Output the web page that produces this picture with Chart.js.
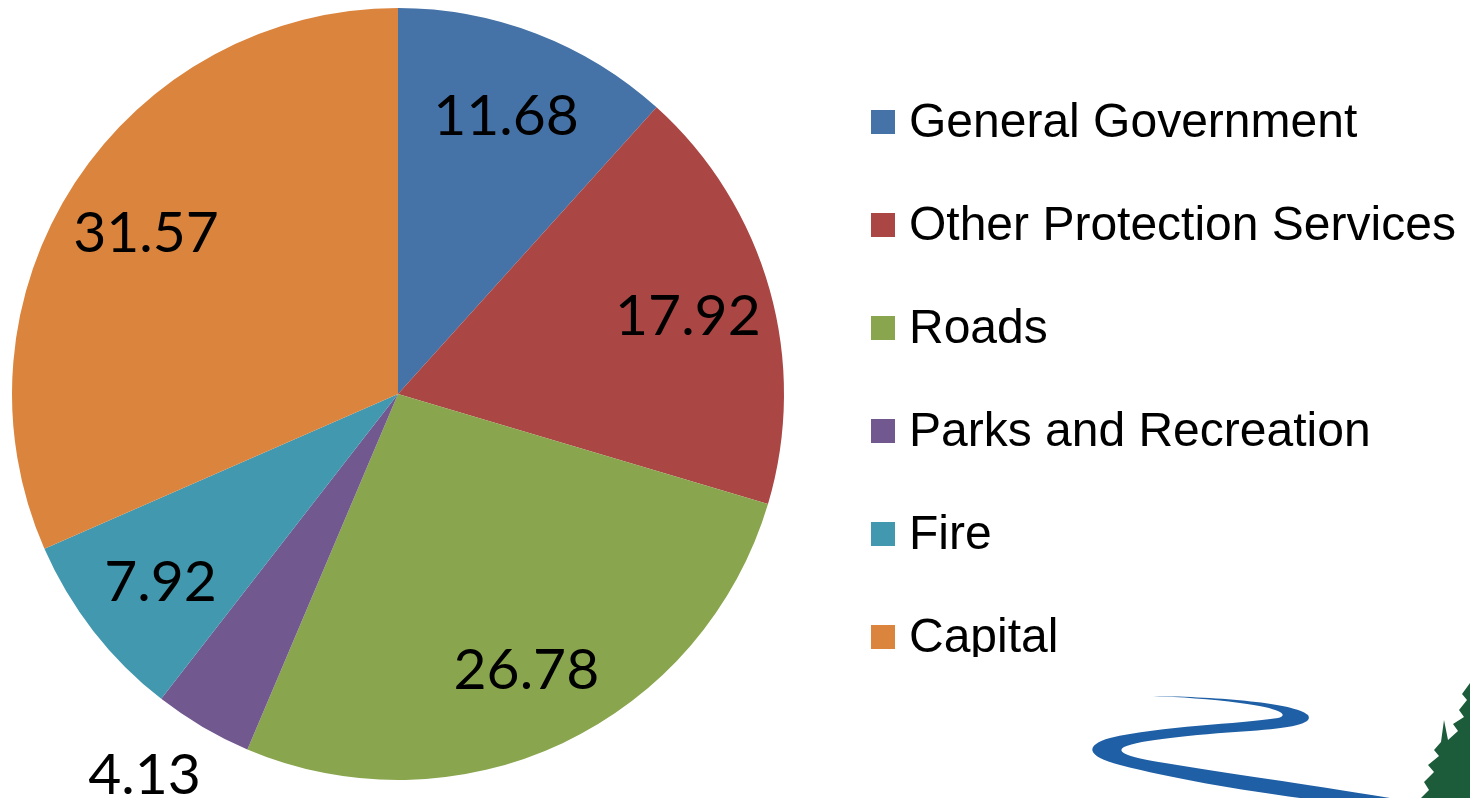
<!DOCTYPE html>
<html>
<head>
<meta charset="utf-8">
<script src="https://cdn.jsdelivr.net/npm/chart.js@4"></script>
<style>
  html, body { margin: 0; padding: 0; background: #fff; }
  canvas { display: block; }
</style>
</head>
<body>
<canvas id="chart" width="1470" height="798"></canvas>
<script>
const categories = ["General Government", "Other Protection Services", "Roads", "Parks and Recreation", "Fire", "Capital"]
const values = [11.68, 17.92, 26.78, 4.13, 7.92, 31.57]
const colors = ["#4572A7", "#AA4643", "#89A54E", "#71588F", "#4198AF", "#DB843D"]

// value labels: inside the slice, small slices go outside
const valueLabels = {
    id: "valueLabels",
    afterDatasetsDraw(chart) {
        const ctx = chart.ctx
        const meta = chart.getDatasetMeta(0)
        const total = values.reduce((a, b) => a + b, 0)
        ctx.save()
        ctx.font = "57px Lato"
        ctx.fillStyle = "#000"
        ctx.textAlign = "center"
        ctx.textBaseline = "middle"
        meta.data.forEach((arc, i) => {
            const p = arc.getProps(["x", "y", "startAngle", "endAngle", "outerRadius"], true)
            const mid = (p.startAngle + p.endAngle) / 2
            const small = values[i] / total < 0.05
            const r = p.outerRadius * (small ? 1.17 : 0.78)
            let x = p.x + Math.cos(mid) * r
            let y = p.y + Math.sin(mid) * r
            if (small) { x -= 25; y -= 12 }
            ctx.fillText(values[i].toFixed(2), x, y + 4)
        })
        ctx.restore()
    }
}

// legend on the right, cut off under the last row like the original
const sideLegend = {
    id: "sideLegend",
    afterDraw(chart) {
        const ctx = chart.ctx
        ctx.save()
        ctx.beginPath()
        ctx.rect(850, 0, 620, 657)
        ctx.clip()
        ctx.font = "48px 'Liberation Sans'"
        ctx.textBaseline = "middle"
        ctx.textAlign = "left"
        chart.data.labels.forEach((label, i) => {
            const cy = 122 + i * 103
            ctx.fillStyle = colors[i]
            ctx.fillRect(871, cy - 12, 24, 24)
            ctx.fillStyle = "#000"
            ctx.fillText(label, 909, cy + 2)
        })
        ctx.restore()
    }
}

// logo fragment in the bottom right corner
const logo = {
    id: "logo",
    afterDraw(chart) {
        const ctx = chart.ctx
        ctx.save()
        ctx.fillStyle = "#1F5FA6"
        ctx.beginPath()
        ctx.moveTo(1153, 696)
        ctx.bezierCurveTo(1220, 697, 1295, 703, 1308, 715)
        ctx.bezierCurveTo(1314, 724, 1290, 728, 1250, 731)
        ctx.bezierCurveTo(1190, 735, 1140, 740, 1124, 747)
        ctx.bezierCurveTo(1115, 752, 1130, 758, 1165, 763)
        ctx.bezierCurveTo(1230, 774, 1300, 783, 1390, 798)
        ctx.lineTo(1300, 798)
        ctx.bezierCurveTo(1240, 790, 1170, 778, 1120, 765)
        ctx.bezierCurveTo(1085, 756, 1085, 745, 1110, 738)
        ctx.bezierCurveTo(1160, 726, 1240, 724, 1278, 718)
        ctx.bezierCurveTo(1290, 715, 1280, 708, 1240, 703)
        ctx.bezierCurveTo(1210, 699, 1180, 697, 1153, 696)
        ctx.closePath()
        ctx.fill()

        ctx.fillStyle = "#1C5C3A"
        ctx.beginPath()
        ctx.moveTo(1470, 683)
        ctx.lineTo(1462, 694)
        ctx.lineTo(1467, 700)
        ctx.lineTo(1459, 710)
        ctx.lineTo(1464, 717)
        ctx.lineTo(1453, 724)
        ctx.lineTo(1458, 731)
        ctx.lineTo(1448, 740)
        ctx.lineTo(1444, 720)
        ctx.lineTo(1441, 742)
        ctx.lineTo(1434, 750)
        ctx.lineTo(1439, 756)
        ctx.lineTo(1428, 765)
        ctx.lineTo(1434, 772)
        ctx.lineTo(1424, 782)
        ctx.lineTo(1429, 790)
        ctx.lineTo(1421, 798)
        ctx.lineTo(1470, 798)
        ctx.closePath()
        ctx.fill()
        ctx.restore()
    }
}

new Chart(document.getElementById("chart").getContext("2d"), {
    type: "pie",
    data: {
        labels: categories,
        datasets: [{
            data: values,
            backgroundColor: colors,
            borderWidth: 0
        }]
    },
    options: {
        responsive: false,
        animation: false,
        layout: { padding: { left: 12, right: 686, top: 8, bottom: 18 } },
        plugins: {
            legend: { display: false },
            tooltip: { enabled: false }
        }
    },
    plugins: [valueLabels, sideLegend, logo]
})
</script>
</body>
</html>
